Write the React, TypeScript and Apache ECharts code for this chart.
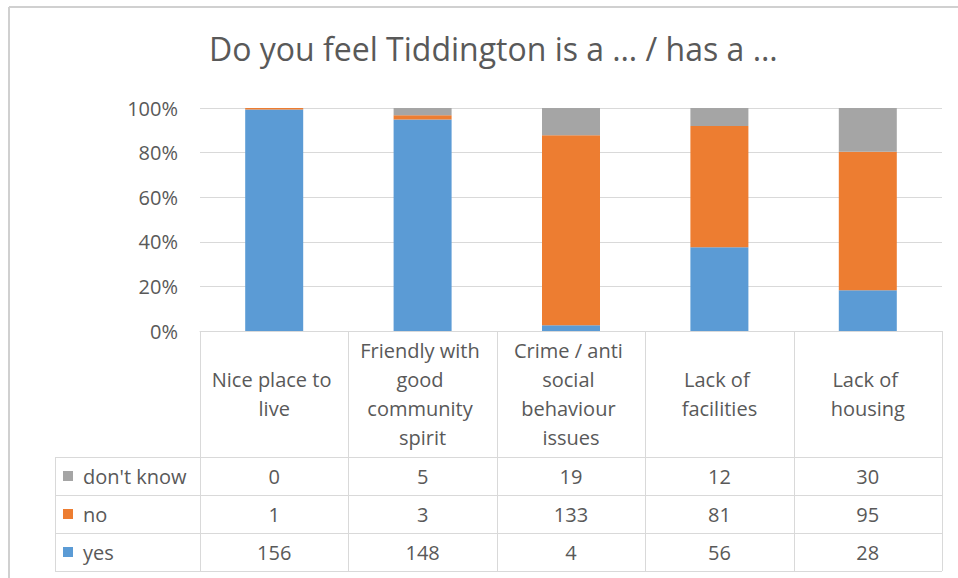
import React, { useEffect, useRef } from "react";
import * as echarts from "echarts";

const categories = [
  "Nice place to live",
  "Friendly with good community spirit",
  "Crime / anti social behaviour issues",
  "Lack of facilities",
  "Lack of housing",
];
const seriesNames = ["don't know", "no", "yes"];
const dontKnow = [0, 5, 19, 12, 30];
const no = [1, 3, 133, 81, 95];
const yes = [156, 148, 4, 56, 28];
const colors = { yes: "#5B9BD5", no: "#ED7D31", dontKnow: "#A5A5A5" };

const FONT = "'Open Sans', Lato, sans-serif";
const TEXT = "#595959";
const LINE = "#D9D9D9";

export default function App() {
  const ref = useRef<HTMLDivElement>(null);
  useEffect(() => {
    if (!ref.current) return;
    const chart = echarts.init(ref.current, undefined, { renderer: "svg" });
    const gridLeft = 200;
    const gridRight = 942;
    const gridTop = 108;
    const gridBottom = 331;
    const colW = (gridRight - gridLeft) / categories.length;
    const headerBottom = 457;
    const rowH = 38;
    const tableLeft = 55;
    const totals = categories.map((_, i) => yes[i] + no[i] + dontKnow[i]);
    const pct = (arr: number[]) => arr.map((v, i) => (v / totals[i]) * 100);

    const rows = [
      { name: seriesNames[0], data: dontKnow, color: colors.dontKnow },
      { name: seriesNames[1], data: no, color: colors.no },
      { name: seriesNames[2], data: yes, color: colors.yes },
    ];

    const graphics: any[] = [];
    graphics.push({ type: "line", shape: { x1: 9, y1: 7, x2: 958, y2: 7 }, style: { stroke: "#D0D0D0", lineWidth: 2 } });
    graphics.push({ type: "line", shape: { x1: 9, y1: 7, x2: 9, y2: 578 }, style: { stroke: "#D0D0D0", lineWidth: 2 } });
    for (let i = 0; i <= categories.length; i++) {
      const x = Math.round(gridLeft + i * colW) + 0.5;
      graphics.push({ type: "line", shape: { x1: x, y1: gridBottom, x2: x, y2: headerBottom + rowH * 3 }, style: { stroke: LINE, lineWidth: 1 } });
    }
    graphics.push({ type: "line", shape: { x1: tableLeft + 0.5, y1: headerBottom, x2: tableLeft + 0.5, y2: headerBottom + rowH * 3 }, style: { stroke: LINE, lineWidth: 1 } });
    for (let r = 0; r <= 3; r++) {
      const y = headerBottom + r * rowH + 0.5;
      graphics.push({ type: "line", shape: { x1: tableLeft, y1: y, x2: gridRight, y2: y }, style: { stroke: LINE, lineWidth: 1 } });
    }
    rows.forEach((row, r) => {
      const cy = headerBottom + r * rowH + rowH / 2;
      graphics.push({ type: "rect", shape: { x: 63, y: cy - 5, width: 10, height: 10 }, style: { fill: row.color } });
      graphics.push({ type: "text", x: 83, y: cy, style: { text: row.name, fill: TEXT, font: `20px ${FONT}`, textVerticalAlign: "middle", textAlign: "left" } });
      row.data.forEach((v, i) => {
        graphics.push({ type: "text", x: gridLeft + (i + 0.5) * colW, y: cy, style: { text: String(v), fill: TEXT, font: `20px ${FONT}`, textVerticalAlign: "middle", textAlign: "center" } });
      });
    });

    chart.setOption({
      animation: false,
      title: {
        text: "Do you feel Tiddington is a \u2026 / has a \u2026",
        left: 204,
        top: 27,
        textStyle: { fontFamily: FONT, fontSize: 32, fontWeight: "normal", color: TEXT },
      },
      grid: { left: gridLeft, right: 958 - gridRight, top: gridTop, bottom: 578 - gridBottom },
      xAxis: {
        type: "category",
        data: categories,
        axisLine: { show: true, lineStyle: { color: LINE } },
        axisTick: { show: false },
        axisLabel: {
          interval: 0,
          color: TEXT,
          fontFamily: FONT,
          fontSize: 20,
          lineHeight: 29,
          width: 134,
          overflow: "break",
          margin: 63,
          verticalAlign: "middle",
        },
      },
      yAxis: {
        type: "value",
        min: 0,
        max: 100,
        interval: 20,
        axisLabel: { formatter: "{value}%", color: TEXT, fontFamily: FONT, fontSize: 20, margin: 22 },
        splitLine: { lineStyle: { color: LINE } },
        axisLine: { show: false },
      },
      series: [
        { name: "yes", type: "bar", stack: "s", data: pct(yes), barWidth: 58, itemStyle: { color: colors.yes } },
        { name: "no", type: "bar", stack: "s", data: pct(no), barWidth: 58, itemStyle: { color: colors.no } },
        { name: "don't know", type: "bar", stack: "s", data: pct(dontKnow), barWidth: 58, itemStyle: { color: colors.dontKnow } },
      ],
      graphic: graphics,
    });
    return () => chart.dispose();
  }, []);
  return <div ref={ref} style={{ position: "fixed", left: 0, top: 0, width: 958, height: 578, background: "#fff" }} />;
}
